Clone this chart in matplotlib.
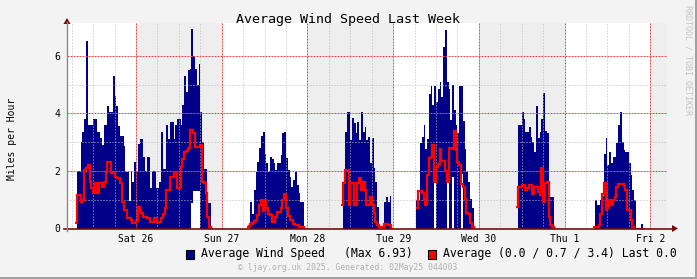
import numpy as np
import matplotlib
matplotlib.use("Agg")
import matplotlib.pyplot as plt
from matplotlib.patches import Rectangle, Polygon
from matplotlib.lines import Line2D

# ---------------- data ----------------
# time axis: hours since Fri 25 Apr 2025 00:00, values every 30 minutes
STEP_H = 0.5
T_START, T_END = 4.667, 172.667          # 25Apr 04:40 -> 02May 04:40

fri_sat_start = 7.0
fri_sat_speed = [0, 2.0, 2.0, 3.0, 3.35, 3.8, 6.5, 3.6, 3.6, 3.6, 3.8, 3.8, 3.35, 3.35,
                 3.15, 2.9, 3.6, 3.6, 4.25, 4.05, 4.05, 5.3, 4.6, 4.25, 3.55, 3.2, 3.2,
                 2.85, 1.95, 1.95, 0.95, 1.95, 1.6, 2.3, 2.0, 2.95, 3.1, 3.1, 2.5, 2.0,
                 2.5, 2.5, 1.4, 2.0, 2.0, 1.4, 1.4, 1.6, 3.35, 2.05, 2.05, 3.6, 3.1, 3.7,
                 3.7, 3.1, 3.6, 3.8, 3.8, 3.6, 4.3, 5.3, 4.75, 5.5, 5.55, 6.93, 6.0, 5.55,
                 5.0, 5.7, 4.05, 3.0, 2.05, 2.05, 0.9, 0.9, 0]
fri_sat_avg = [0.18, 1.16, 1.16, 0.93, 1.0, 2.03, 2.1, 2.2, 1.63, 1.4, 1.22, 1.57, 1.22,
               1.57, 1.57, 1.45, 1.6, 1.92, 2.32, 2.32, 1.92, 1.92, 1.8, 1.75, 1.75, 1.57,
               0.93, 0.64, 0.64, 0.35, 0.35, 0.3, 0.18, 0.2, 0.25, 0.76, 0.6, 0.53, 0.4,
               0.4, 0.35, 0.35, 0.23, 0.23, 0.35, 0.35, 0.23, 0.23, 0.35, 0.5, 0.7, 1.34,
               1.34, 1.8, 1.8, 1.97, 1.97, 1.4, 1.4, 2.15, 2.4, 2.67, 2.7, 2.78, 3.42,
               3.42, 3.3, 2.84, 2.84, 2.84, 2.9, 1.6, 1.57, 1.22, 0.4, 0.05, 0]

sun_start = 55.0
sun_speed = [0, 0, 0.93, 0.5, 1.34, 1.97, 2.3, 2.8, 3.2, 3.36, 2.6, 2.26, 1.97, 2.49, 2.4,
             2.26, 2.03, 2.26, 2.26, 2.55, 3.3, 3.36, 2.44, 2.03, 1.8, 1.45, 1.7, 1.97,
             1.51, 1.22, 0.93, 0.93, 0]
sun_avg = [0.05, 0.1, 0.15, 0.18, 0.27, 0.3, 0.47, 0.8, 0.99, 0.6, 0.99, 0.7, 0.5, 0.47,
           0.23, 0.23, 0.4, 0.58, 0.58, 0.7, 1.0, 1.2, 0.7, 0.45, 0.3, 0.3, 0.15, 0.11,
           0.11, 0.06, 0.06, 0.06, 0]

mon_start = 81.5
mon_speed = [0, 1.57, 3.36, 4.06, 4.06, 3.07, 3.82, 3.65, 3.3, 3.71, 3.07, 4.06, 3.36,
             3.53, 3.07, 3.19, 2.26, 3.13, 2.09, 1.63, 0.76, 0, 0, 0, 0.93, 1.1, 0.93,
             1.13, 0]
mon_avg = [0.82, 1.57, 2.03, 2.03, 0.82, 1.57, 1.57, 0.82, 0.82, 1.57, 1.74, 1.34, 1.63,
           1.34, 0.82, 0.82, 1.1, 0.82, 0.53, 0.24, 0.12, 0.06, 0.05, 0.03, 0.15, 0.15,
           0.12, 0.12, 0]

tue_start = 102.5
tue_speed = [1.0, 1.0, 2.96, 3.17, 3.58, 2.75, 3.12, 4.68, 4.95, 4.3, 4.95, 4.4, 4.86,
             5.1, 4.57, 6.3, 6.9, 5.1, 4.86, 3.77, 5.0, 4.1, 3.6, 3.3, 4.95, 4.95, 3.75,
             2.77, 1.96, 1.61, 1.03, 0.7, 0]
tue_avg = [0.7, 1.3, 1.3, 1.25, 1.0, 0.8, 1.85, 2.45, 2.5, 2.9, 1.6, 2.15, 2.25, 2.75,
           2.35, 2.35, 2.0, 1.62, 2.78, 2.78, 2.75, 3.38, 2.72, 2.3, 2.2, 1.55, 1.45,
           1.04, 0.53, 0.5, 0.18, 0.05, 0]

wed_start = 130.5
wed_speed = [0, 3.59, 3.59, 4.06, 3.79, 3.36, 3.36, 3.53, 3.19, 3.01, 2.67, 4.25, 3.13,
             3.36, 3.79, 4.69, 3.4, 3.3, 1.5, 1.1, 1.1, 0]
wed_avg = [0.75, 1.45, 1.45, 1.51, 1.51, 1.34, 1.4, 1.51, 1.51, 1.2, 1.45, 1.45, 1.28,
           1.16, 2.09, 0.93, 1.57, 1.6, 0.41, 0.12, 0.05, 0]

thu_start = 152.0
thu_speed = [0, 0.99, 0.8, 0.8, 0.99, 1.13, 2.6, 3.13, 2.2, 2.67, 2.26, 2.5, 2.5, 2.96,
             3.59, 4.06, 3.01, 2.72, 2.67, 2.67, 2.26, 1.86, 1.34, 1.0, 0, 0, 0, 0.15, 0]
thu_avg = [0.06, 0.06, 0.06, 0.12, 0.5, 1.2, 1.57, 0.64, 0.7, 0.99, 0.81, 0.99, 1.1,
           1.45, 1.54, 1.54, 1.54, 1.47, 1.34, 0.64, 0.64, 0.29, 0.06, 0, 0, 0, 0, 0, 0]

# periods without samples (drawn blank inside the area)
gap_times = [39.5, 40.0, 40.5, 41.0, 41.5, 107.5, 111.0, 112.5, 115.0]
gap_heights = [0.9, 1.3, 1.3, 1.3, 1.3, 1.6, 1.8, 1.8, 1.9]

day_ticks = [24, 48, 72, 96, 120, 144, 168]
day_labels = ["Sat 26", "Sun 27", "Mon 28", "Tue 29", "Wed 30", "Thu 1", "Fri 2"]
shaded_days = [24, 72, 120, 168]
y_ticks = [0, 2, 4, 6]

segments = [
    (fri_sat_start, fri_sat_speed, fri_sat_avg),
    (sun_start, sun_speed, sun_avg),
    (mon_start, mon_speed, mon_avg),
    (tue_start, tue_speed, tue_avg),
    (wed_start, wed_speed, wed_avg),
    (thu_start, thu_speed, thu_avg),
]

# ---------------- styling ----------------
W, H, DPI = 697, 279, 100
BG = "#F3F3F3"
SHADE = "#EEEEEE"
BLUE = "#000088"
RED = "#FF0000"
AXIS_RED = "#7A0A0A"
MONO = "DejaVu Sans Mono"

fig = plt.figure(figsize=(W / DPI, H / DPI), dpi=DPI, facecolor=BG)

L, R, T, B = 67, 667, 23, 228.5
ax = fig.add_axes([L / W, (H - B) / H, (R - L) / W, (B - T) / H])
ax.set_facecolor("white")
ymax = (B - T) / 28.8
ax.set_xlim(T_START, T_END)
ax.set_ylim(0, ymax)
for s in ax.spines.values():
    s.set_visible(False)

# day shading
for d in shaded_days:
    ax.axvspan(d, min(d + 24, T_END), color=SHADE, lw=0, zorder=0)

# wind speed area + average line
for start, speed, avg in segments:
    speed = np.asarray(speed, float)
    avg = np.asarray(avg, float)
    edges = start + STEP_H * np.arange(len(speed) + 1)
    ax.stairs(speed, edges, fill=True, color=BLUE, lw=0, zorder=2)
    ax.stairs(avg, edges, baseline=None, color=RED, lw=1.6, zorder=4)

ax.bar(gap_times, gap_heights, width=STEP_H, align="edge", color="white", lw=0, zorder=2.5)

# grid
minor_v = [h for h in np.arange(6, T_END, 6) if h % 24 != 0 and h > T_START]
for h in minor_v:
    ax.axvline(h, color="#BBBBBB", lw=0.72, ls=(0, (1, 2)), zorder=3)
for h in day_ticks:
    ax.axvline(h, color="#E05050", lw=0.72, ls=(0, (2, 1)), zorder=3)
for v in [1, 3, 5]:
    ax.axhline(v, color="#BBBBBB", lw=0.72, ls=(0, (1, 2)), zorder=3)
for v in [2, 4, 6]:
    ax.axhline(v, color="#E05050", lw=0.72, ls=(0, (2, 1)), zorder=3)

ax.set_xticks(day_ticks)
ax.set_xticklabels(day_labels, fontsize=7, family=MONO)
ax.set_yticks(y_ticks)
ax.set_yticklabels([str(v) for v in y_ticks], fontsize=7, family=MONO)
ax.tick_params(axis="both", length=0)
ax.tick_params(axis="x", pad=4)
ax.tick_params(axis="y", pad=5)


def fx(px):
    return px / W


def fy(py):
    return 1 - py / H


# axes lines and arrows
fig.add_artist(Line2D([fx(64), fx(673)], [fy(B), fy(B)], color=AXIS_RED, lw=1.2))
fig.add_artist(Line2D([fx(L), fx(L)], [fy(231), fy(22)], color="#8A8A8A", lw=1.0))
fig.add_artist(Polygon([[fx(672), fy(B - 3.5)], [fx(678), fy(B)], [fx(672), fy(B + 3.5)]],
                       closed=True, color=AXIS_RED, lw=0))
fig.add_artist(Polygon([[fx(L - 3.5), fy(24)], [fx(L), fy(18)], [fx(L + 3.5), fy(24)]],
                       closed=True, color=AXIS_RED, lw=0))

# 3D frame
fig.add_artist(Rectangle((0, 0), 1, 2 / H, transform=fig.transFigure, color="#A0A0A0", lw=0))
fig.add_artist(Rectangle((1 - 2 / W, 0), 2 / W, 1, transform=fig.transFigure, color="#A0A0A0", lw=0))

# texts
fig.text(0.5, fy(19), "Average Wind Speed Last Week", ha="center", va="center",
         fontsize=9.6, family=MONO)
fig.text(fx(12), fy(139), "Miles per Hour", rotation=90, ha="center", va="center",
         fontsize=7, family=MONO)
fig.text(fx(688), fy(5), "RRDTOOL / TOBI OETIKER", rotation=270, ha="center", va="top",
         fontsize=6, family=MONO, color="#C4C4C4")

ly = 254
fig.add_artist(Rectangle((fx(186), fy(ly + 4.5)), 8 / W, 9 / H, transform=fig.transFigure,
                         facecolor=BLUE, edgecolor="black", lw=0.8))
fig.text(fx(201), fy(ly), "Average Wind Speed", ha="left", va="center", fontsize=8.3, family=MONO)
fig.text(fx(344), fy(ly), "(Max 6.93)", ha="left", va="center", fontsize=8.3, family=MONO)
fig.add_artist(Rectangle((fx(428), fy(ly + 4.5)), 8 / W, 9 / H, transform=fig.transFigure,
                         facecolor=RED, edgecolor="black", lw=0.8))
fig.text(fx(443), fy(ly), "Average (0.0 / 0.7 / 3.4) Last 0.0", ha="left", va="center",
         fontsize=8.3, family=MONO)
fig.text(fx(348), fy(268), "\u00a9 ljay.org.uk 2025. Generated: 02May25 044003",
         ha="center", va="center", fontsize=5.8, family=MONO, color="#B0B0B0")

fig.savefig("out.png", dpi=DPI, facecolor=BG)
